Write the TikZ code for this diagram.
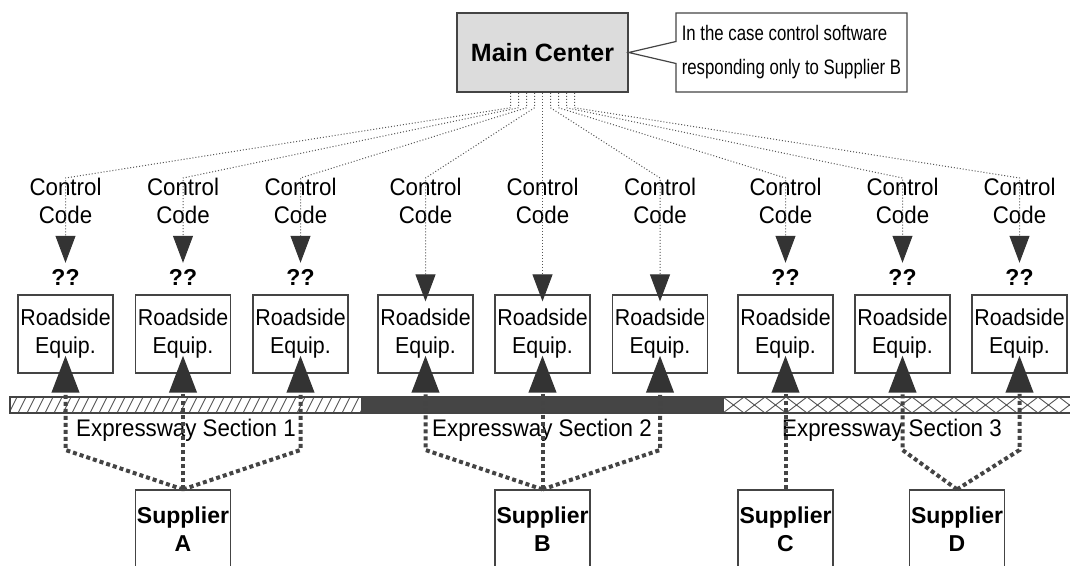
\documentclass[tikz,border=0pt]{standalone}
\usepackage{fontspec}
\setmainfont{Liberation Sans}
\newfontfamily\narrowsans{Liberation Sans}[FakeStretch=0.93]
\newfontfamily\calloutsans{Liberation Sans}[FakeStretch=0.8]
\usetikzlibrary{arrows.meta, positioning, shapes.callouts, calc}
\definecolor{cdark}{HTML}{333333}
\definecolor{cline}{HTML}{444444}
\definecolor{cgrid}{HTML}{555555}
\definecolor{cpanel}{HTML}{DCDCDC}
\definecolor{croad}{HTML}{454545}
\tikzset{
  box/.style={draw=cline, line width=1.2pt, minimum width=95pt, minimum height=78pt, inner sep=0pt, align=center},
  equipbox/.style={box, font=\narrowsans\fontsize{23}{28}\selectfont},
  supplierbox/.style={box, font=\bfseries\fontsize{23}{28}\selectfont},
  centerbox/.style={draw=cline, fill=cpanel, line width=1.5pt, minimum width=171pt, minimum height=79pt, font=\bfseries\fontsize{25}{30}\selectfont},
  notebox/.style={rectangle callout, draw=cline, line width=1.2pt, minimum width=231pt, minimum height=79pt, callout pointer width=22pt, align=left, font=\calloutsans\fontsize{21}{34}\selectfont},
  codelabel/.style={align=center, inner sep=0pt, font=\narrowsans\fontsize{24}{28}\selectfont},
  roadlabel/.style={inner sep=0pt, font=\narrowsans\fontsize{24}{28}\selectfont},
  unknown/.style={inner sep=1pt, font=\bfseries\fontsize{23}{28}\selectfont},
  fanline/.style={draw=cgrid, line width=1pt, dotted, -{Triangle[length=27pt, width=20pt, color=cdark, fill=cdark]}},
  feedline/.style={draw=cline, line width=4pt, dash pattern=on 4pt off 3pt, shorten >=-18pt, -{Triangle[length=37pt, width=27pt, color=cdark, fill=cdark]}},
  hatch/.style={draw=cgrid, line width=0.9pt},
  roadedge/.style={draw=cline, line width=1.3pt},
}
\begin{document}
\begin{tikzpicture}[x=1pt, y=-1pt]
  \path[use as bounding box, clip] (0,0) rectangle (1070,565);
  \node[centerbox] (main) at (542.5,52.5) {Main Center};
  \node[notebox, callout absolute pointer={(main.east)}] (note) at (791.5,52.5) {In the case control software\\responding only to Supplier B};

  \begin{scope}
    \clip (10,397) rectangle (362,413);
    \foreach \h in {0,9,...,360} \draw[hatch] (\h,413) -- ++(8,-16);
  \end{scope}
  \fill[croad] (362,397) rectangle (723,413);
  \begin{scope}
    \clip (723,397) rectangle (1075,413);
    \foreach \h in {723,744,...,1070} \draw[hatch] (\h,397) -- ++(21,16) (\h,413) -- ++(21,-16);
  \end{scope}
  \draw[roadedge] (10,397) rectangle (1075,413) (362,397) -- (362,413) (723,397) -- (723,413);

  \node[roadlabel] (sec1) at (186,430) {Expressway Section 1};
  \node[roadlabel] (sec2) at (542,430) {Expressway Section 2};
  \node[roadlabel] (sec3) at (892,430) {Expressway Section 3};

  \foreach \x [count=\i] in {65.5,183,300.5,425.5,542.5,660,785.5,902.5,1019.5} {
    \node[codelabel] (code\i) at (\x,201) {Control\\Code};
    \node[equipbox] (eq\i) at (\x,334) {Roadside\\Equip.};
  }
  \foreach \i/\x in {1/65.5,2/183,3/300.5,7/785.5,8/902.5,9/1019.5}
    \node[unknown] (q\i) at (\x,277) {??};

  \foreach \i/\dx in {1/-32,2/-24,3/-16,7/16,8/24,9/32}
    \draw[fanline, shorten >=5pt] ([xshift=\dx pt]main.south) -- ++(0,15) -- (code\i.north) -- (q\i.north);
  \foreach \i/\dx in {4/-8,5/0,6/8}
    \draw[fanline, shorten >=-7pt] ([xshift=\dx pt]main.south) -- ++(0,15) -- (code\i.north) -- (eq\i.north);

  \node[supplierbox] (supA) at (183,529) {Supplier\\A};
  \node[supplierbox] (supB) at (542.5,529) {Supplier\\B};
  \node[supplierbox] (supC) at (785.5,529) {Supplier\\C};
  \node[supplierbox] (supD) at (957,529) {Supplier\\D};

  \foreach \i in {1,2,3}
    \draw[feedline] (supA.north) -- (eq\i.south |- 0,450) -- (eq\i.south);
  \foreach \i in {4,5,6}
    \draw[feedline] (supB.north) -- (eq\i.south |- 0,450) -- (eq\i.south);
  \draw[feedline] (supC.north) -- (eq7.south);
  \foreach \i in {8,9}
    \draw[feedline] (supD.north) -- (eq\i.south |- 0,450) -- (eq\i.south);
\end{tikzpicture}
\end{document}
